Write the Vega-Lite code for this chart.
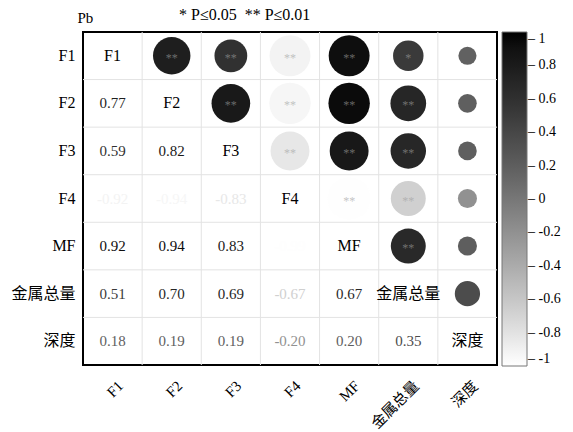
{
  "$schema": "https://vega.github.io/schema/vega-lite/v6.json",
  "width": 414,
  "height": 333,
  "autosize": {"type": "none"},
  "padding": {"left": 83, "top": 32, "right": 76, "bottom": 67},
  "background": "white",
  "config": {
    "font": "Liberation Serif, Noto Sans CJK SC",
    "view": {"stroke": "black", "strokeWidth": 2},
    "axisX": {"title": null, "domain": false, "ticks": false, "grid": false, "labelAngle": -45, "labelAlign": "right", "labelBaseline": "middle", "labelPadding": 18, "labelOffset": 8, "labelFontSize": 15, "labelColor": "black", "labelFont": "Liberation Serif, Noto Sans CJK SC"},
    "axisY": {"domain": false, "ticks": false, "grid": false, "labelPadding": 8, "labelFontSize": 16, "labelColor": "black", "labelFont": "Liberation Serif, Noto Sans CJK SC"}
  },
  "title": {
    "text": "* P≤0.05 \u00a0** P≤0.01",
    "anchor": "start",
    "dx": 168,
    "dy": 29,
    "offset": 0,
    "baseline": "bottom",
    "fontSize": 16,
    "fontWeight": "normal",
    "font": "Liberation Serif",
    "color": "black"
  },
  "datasets": {
    "vars": [
      {"v": "F1"}, {"v": "F2"}, {"v": "F3"}, {"v": "F4"}, {"v": "MF"}, {"v": "金属总量"}, {"v": "深度"}
    ],
    "pairs": [
      {"a": "F1", "b": "F2", "r": 0.77, "s": "**"},
      {"a": "F1", "b": "F3", "r": 0.59, "s": "**"},
      {"a": "F1", "b": "F4", "r": -0.92, "s": "**"},
      {"a": "F1", "b": "MF", "r": 0.92, "s": "**"},
      {"a": "F1", "b": "金属总量", "r": 0.51, "s": "*"},
      {"a": "F1", "b": "深度", "r": 0.18, "s": ""},
      {"a": "F2", "b": "F3", "r": 0.82, "s": "**"},
      {"a": "F2", "b": "F4", "r": -0.94, "s": "**"},
      {"a": "F2", "b": "MF", "r": 0.94, "s": "**"},
      {"a": "F2", "b": "金属总量", "r": 0.70, "s": "**"},
      {"a": "F2", "b": "深度", "r": 0.19, "s": ""},
      {"a": "F3", "b": "F4", "r": -0.83, "s": "**"},
      {"a": "F3", "b": "MF", "r": 0.83, "s": "**"},
      {"a": "F3", "b": "金属总量", "r": 0.69, "s": "**"},
      {"a": "F3", "b": "深度", "r": 0.19, "s": ""},
      {"a": "F4", "b": "MF", "r": -0.99, "s": "**"},
      {"a": "F4", "b": "金属总量", "r": -0.67, "s": "**"},
      {"a": "F4", "b": "深度", "r": -0.20, "s": ""},
      {"a": "MF", "b": "金属总量", "r": 0.67, "s": "**"},
      {"a": "MF", "b": "深度", "r": 0.20, "s": ""},
      {"a": "金属总量", "b": "深度", "r": 0.35, "s": ""}
    ]
  },
  "layer": [
    {
      "data": {"name": "vars"},
      "transform": [{"filter": "datum.v != 'F1'"}],
      "mark": {"type": "rule", "color": "#e3e3e3", "strokeWidth": 1},
      "encoding": {
        "x": {"field": "v", "type": "nominal", "bandPosition": 0, "scale": {"domain": ["F1", "F2", "F3", "F4", "MF", "金属总量", "深度"]}}
      }
    },
    {
      "data": {"name": "vars"},
      "transform": [{"filter": "datum.v != 'F1'"}],
      "mark": {"type": "rule", "color": "#e3e3e3", "strokeWidth": 1},
      "encoding": {
        "y": {"field": "v", "type": "nominal", "bandPosition": 0, "scale": {"domain": ["F1", "F2", "F3", "F4", "MF", "金属总量", "深度"]}}
      }
    },
    {
      "data": {"name": "pairs"},
      "transform": [{"calculate": "abs(datum.r)", "as": "ar"}],
      "mark": {"type": "circle", "opacity": 1},
      "encoding": {
        "x": {"field": "b", "type": "nominal"},
        "y": {"field": "a", "type": "nominal"},
        "size": {"field": "ar", "type": "quantitative", "scale": {"domain": [0, 1], "range": [0, 1823]}, "legend": null},
        "color": {
          "field": "r", "type": "quantitative",
          "scale": {"domain": [-1, 1], "range": ["#ffffff", "#000000"]},
          "legend": {
            "orient": "none", "legendX": 419, "legendY": 0,
            "direction": "vertical", "title": null,
            "gradientLength": 334, "gradientThickness": 25,
            "gradientStrokeColor": "#777", "gradientStrokeWidth": 1,
            "values": [1, 0.8, 0.6, 0.4, 0.2, 0, -0.2, -0.4, -0.6, -0.8, -1],
            "labelExpr": "'– ' + (datum.value < 0 ? '-' : '') + format(abs(datum.value), '')",
            "labelFontSize": 14, "labelColor": "black", "labelOffset": 1,
            "labelOverlap": false, "labelFont": "Liberation Serif"
          }
        }
      }
    },
    {
      "data": {"name": "pairs"},
      "mark": {"type": "text", "color": "#a0a0a0", "opacity": 0.6, "fontSize": 12, "baseline": "middle", "dy": 2},
      "encoding": {
        "x": {"field": "b", "type": "nominal"},
        "y": {"field": "a", "type": "nominal"},
        "text": {"field": "s"}
      }
    },
    {
      "data": {"name": "pairs"},
      "transform": [{"calculate": "(datum.r < 0 ? '-' : '') + format(abs(datum.r), '.2f')", "as": "lab"}],
      "mark": {"type": "text", "fontSize": 15, "baseline": "middle"},
      "encoding": {
        "x": {"field": "a", "type": "nominal"},
        "y": {"field": "b", "type": "nominal"},
        "text": {"field": "lab"},
        "color": {"field": "r", "type": "quantitative"}
      }
    },
    {
      "data": {"name": "vars"},
      "mark": {"type": "text", "fontSize": 16, "color": "black", "baseline": "middle"},
      "encoding": {
        "x": {"field": "v", "type": "nominal", "scale": {"domain": ["F1", "F2", "F3", "F4", "MF", "金属总量", "深度"]}, "axis": {"orient": "bottom"}},
        "y": {"field": "v", "type": "nominal", "scale": {"domain": ["F1", "F2", "F3", "F4", "MF", "金属总量", "深度"]},
          "axis": {"title": "Pb", "titleAngle": 0, "titleAlign": "left", "titleBaseline": "alphabetic", "titleX": -6, "titleY": -10, "titleFontSize": 15, "titleFontWeight": "normal", "titleColor": "black", "titleFont": "Liberation Serif"}},
        "text": {"field": "v"}
      }
    }
  ],
  "resolve": {"scale": {"x": "shared", "y": "shared", "color": "shared"}}
}
